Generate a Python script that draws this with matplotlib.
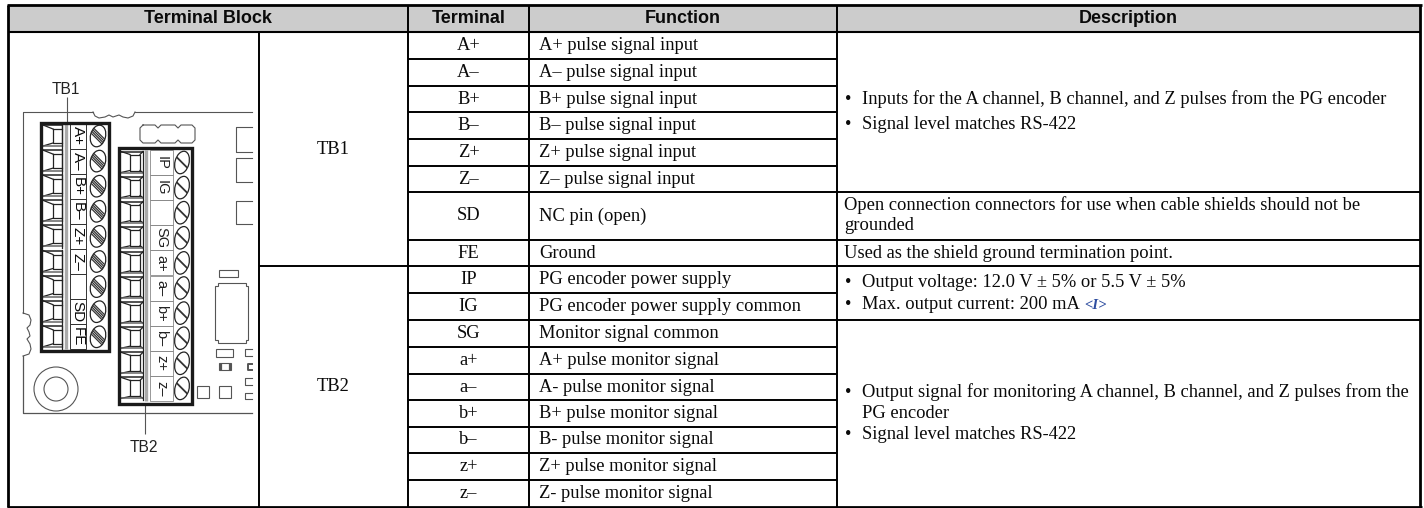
import matplotlib
matplotlib.use('Agg')
import matplotlib.pyplot as plt
from matplotlib.patches import Rectangle, Ellipse, Circle, Polygon

terminals = ["A+", "A–", "B+", "B–", "Z+", "Z–", "SD", "FE", "IP", "IG", "SG", "a+", "a–", "b+", "b–", "z+", "z–"]
functions = ["A+ pulse signal input", "A– pulse signal input", "B+ pulse signal input", "B– pulse signal input",
             "Z+ pulse signal input", "Z– pulse signal input", "NC pin (open)", "Ground",
             "PG encoder power supply", "PG encoder power supply common", "Monitor signal common",
             "A+ pulse monitor signal", "A- pulse monitor signal", "B+ pulse monitor signal",
             "B- pulse monitor signal", "Z+ pulse monitor signal", "Z- pulse monitor signal"]
headers = ["Terminal Block", "Terminal", "Function", "Description"]
tb1_labels = ["A+", "A–", "B+", "B–", "Z+", "Z–", "", "SD", "FE"]
tb2_labels = ["IP", "IG", "", "SG", "a+", "a–", "b+", "b–", "z+", "z–"]

# table layout, in image pixels
col_x = [8, 259, 408, 529, 837, 1420]
row_y = [32, 59, 86, 112, 139, 166, 192, 240, 266, 293, 320, 347, 374, 400, 427, 453, 480, 507]
top = 5
SERIF = 'Liberation Serif'
SANS = 'Liberation Sans'
BODY = 13.3
INK = '#0a0a0a'
G = '#555555'

fig = plt.figure(figsize=(14.24, 5.08), dpi=100)
ax = fig.add_axes([0, 0, 1, 1])
ax.set_xlim(0, 1424)
ax.set_ylim(508, 0)
ax.axis('off')


def hline(y, x0, x1, lw=1.4, c='black', z=2):
    ax.plot([x0, x1], [y, y], color=c, lw=lw, solid_capstyle='butt', zorder=z)


def vline(x, y0, y1, lw=1.4, c='black', z=2):
    ax.plot([x, x], [y0, y1], color=c, lw=lw, solid_capstyle='butt', zorder=z)


def box(x0, y0, x1, y1, ec=G, lw=0.8, fc='none', z=3):
    ax.add_patch(Rectangle((x0, y0), x1 - x0, y1 - y0, fc=fc, ec=ec, lw=lw, zorder=z))


def body(x, y, s, **kw):
    # y is the text baseline
    ax.text(x, y, s, family=SERIF, fontsize=BODY, va='baseline', color=INK, **kw)


# header band
ax.add_patch(Rectangle((col_x[0], top), col_x[-1] - col_x[0], row_y[0] - top, fc='#cccccc', ec='none'))
header_mid = [(col_x[0] + col_x[2]) / 2, (col_x[2] + col_x[3]) / 2, (col_x[3] + col_x[4]) / 2, (col_x[4] + col_x[5]) / 2]
for h, xm in zip(headers, header_mid):
    ax.text(xm, 23, h, family=SANS, fontweight='bold', fontsize=13, ha='center', va='baseline', color=INK)

# grid
hline(top, col_x[0] - 1.5, col_x[-1] + 1.5, 2.0)
hline(row_y[0], col_x[0], col_x[-1], 1.5)
hline(row_y[-1], col_x[0] - 1.5, col_x[-1] + 1.5, 2.0)
vline(col_x[0], top, row_y[-1], 2.0)
vline(col_x[-1], top, row_y[-1], 2.0)
vline(col_x[1], row_y[0], row_y[-1])
for x in col_x[2:5]:
    vline(x, top, row_y[-1])
for y in row_y[1:-1]:
    hline(y, col_x[2], col_x[4])
hline(row_y[8], col_x[1], col_x[2])
for i in (6, 7, 8, 10):
    hline(row_y[i], col_x[4], col_x[5])

# table text
for i, (t, f) in enumerate(zip(terminals, functions)):
    base = (row_y[i] + row_y[i + 1]) / 2 + 4.5
    body((col_x[2] + col_x[3]) / 2, base, t, ha='center')
    body(col_x[3] + 10, base, f)
body((col_x[1] + col_x[2]) / 2, 154, "TB1", ha='center')
body((col_x[1] + col_x[2]) / 2, 391, "TB2", ha='center')

BUL = col_x[4] + 8
TXT = col_x[4] + 25
for y, s in [(104, "Inputs for the A channel, B channel, and Z pulses from the PG encoder"),
             (129, "Signal level matches RS-422"),
             (287, "Output voltage: 12.0 V ± 5% or 5.5 V ± 5%"),
             (309, "Max. output current: 200 mA"),
             (397, "Output signal for monitoring A channel, B channel, and Z pulses from the"),
             (439, "Signal level matches RS-422")]:
    body(BUL, y, "•")
    body(TXT, y, s)
body(TXT, 418, "PG encoder")
body(col_x[4] + 7, 210.5, "Open connection connectors for use when cable shields should not be")
body(col_x[4] + 7, 230.5, "grounded")
body(col_x[4] + 7, 258, "Used as the shield ground termination point.")
ax.text(1084, 309, "<I>", family=SERIF, fontsize=10.5, style='italic', fontweight='bold', va='baseline', color='#2f4ea0')

# board outline
ax.plot([252, 135], [112, 112], color=G, lw=0.8)
ax.plot([93, 23, 23], [112, 112, 313], color=G, lw=0.8)
ax.plot([93, 95, 99, 105, 109, 113, 116, 119, 123, 128, 133, 135],
        [112, 116, 118, 117, 115, 117, 116, 115, 117, 118, 116, 112], color=G, lw=0.8)
ax.plot([23, 29, 31, 30, 27, 29, 30, 27, 30, 31, 29, 23],
        [313, 315, 320, 325, 328, 332, 336, 339, 344, 349, 354, 356], color=G, lw=0.8)
ax.plot([23, 23, 252], [356, 413, 413], color=G, lw=0.9)

# top connector outline
ax.plot([143, 155, 158, 161, 175, 178, 181, 192, 195, 195, 192, 181, 178, 175, 161, 158, 155, 143, 140, 140, 143],
        [125, 125, 128, 125, 125, 128, 125, 125, 128, 140, 143, 143, 140, 143, 143, 140, 143, 143, 140, 128, 125],
        color=G, lw=0.8)


def connector(xl, xi0, xi1, xr, yc, half):
    # one wire clamp seen from above: inner square, flared corners, row lines
    k = '#222222'
    ax.plot([xi0, xi1, xi1, xi0, xi0], [yc - half, yc - half, yc + half, yc + half, yc - half], color=k, lw=0.9)
    ax.plot([xl, xi0], [yc - 11, yc - half], color=k, lw=0.9)
    ax.plot([xl, xi0], [yc + 10, yc + half], color=k, lw=0.9)
    ax.plot([xr, xi1], [yc - 11, yc - half], color=k, lw=0.9)
    ax.plot([xr, xi1], [yc + 10, yc + half], color=k, lw=0.9)
    ax.plot([xl, xr], [yc - 11, yc - 11], color=k, lw=1.1)
    ax.plot([xl, xr], [yc + 10, yc + 10], color='#666666', lw=1.1)
    ax.plot([xr, xr], [yc - 12, yc + 12], color=k, lw=0.9)


def screw(xc, yc, w, h, offsets, lw):
    # oval screw head leaning right, with slot lines running down to the right
    oval = Ellipse((xc, yc), w, h, angle=15, fc='white', ec='#222222', lw=0.9, zorder=3)
    ax.add_patch(oval)
    for dx in offsets:
        ln, = ax.plot([xc - 9 + dx, xc + 9 + dx], [yc - 9, yc + 9], color='#333333', lw=lw, zorder=4)
        ln.set_clip_path(oval)


# TB1 block
for i, lab in enumerate(tb1_labels):
    yc = 136 + 25.1 * i
    connector(43, 53, 62, 62, yc, 7)
    screw(98, yc, 15, 22, [-4, -1.5, 1, 3.5], 0.9)
    box(69.5, yc - 12.5, 86, yc + 12.5, ec='#333333', lw=0.7)
    if lab:
        ax.text(77.7, yc, lab, family=SANS, fontsize=11, rotation=-90, ha='center', va='center', color=INK, zorder=5)
vline(66, 124, 349, 2.4, '#aaaaaa')

# TB2 block
for i, lab in enumerate(tb2_labels):
    yc = 162.5 + 25.1 * i
    connector(121, 130, 140, 143, yc, 8)
    screw(182, yc, 14, 23, [0], 1.3)
    box(149.5, yc - 12.5, 173, yc + 12.5, ec='#888888', lw=0.6, z=2)
    if lab:
        ax.text(161.5, yc, lab, family=SANS, fontsize=10.5, rotation=-90, ha='center', va='center', color='#222222', zorder=5)
vline(146, 150, 401, 2.4, '#aaaaaa')

box(40.5, 122.5, 109, 351, ec='#1a1a1a', lw=2.4, z=6)
box(118.5, 147.5, 192, 404, ec='#1a1a1a', lw=2.4, z=6)

# leaders and callouts
vline(67, 97, 122, 0.8, G)
vline(145, 404, 434, 0.8, G)
ax.text(66, 94, "TB1", family=SANS, fontsize=11.2, ha='center', va='baseline', color='#222222')
ax.text(144, 452, "TB2", family=SANS, fontsize=11.2, ha='center', va='baseline', color='#222222')

# parts to the right of the blocks
for y0, y1 in [(127, 152), (158, 182), (201, 224)]:
    ax.plot([252, 236, 236, 252], [y0, y0, y1, y1], color=G, lw=0.8)
box(219, 270, 238, 277)
ax.add_patch(Polygon([(218, 283), (246, 283), (246, 286), (248, 286), (248, 340), (246, 340),
                      (246, 343), (218, 343), (218, 340), (215, 340), (215, 286), (218, 286)],
                     closed=True, fc='none', ec=G, lw=0.8))
box(216, 349, 233, 357)
box(219, 363, 231, 370)
vline(220.5, 363, 370, 1.6, G)
vline(229.5, 363, 370, 1.6, G)
for y0, y1 in [(349, 356), (378, 385), (393, 399)]:
    ax.plot([252, 245, 245, 252], [y0, y0, y1, y1], color=G, lw=0.8)
ax.plot([252, 248, 248, 252], [364, 364, 370, 370], color=G, lw=1.4)
box(197, 386, 209, 398)
box(219, 386, 231, 398)
ax.add_patch(Circle((56, 389), 22, fc='none', ec=G, lw=0.8))
ax.add_patch(Circle((56, 389), 12, fc='none', ec=G, lw=0.8))

fig.savefig('out.png', dpi=100)
